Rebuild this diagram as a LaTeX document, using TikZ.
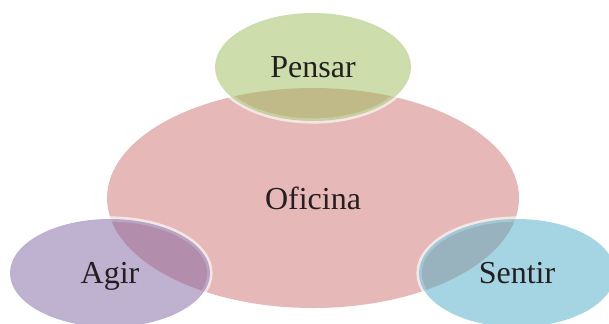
\documentclass[tikz,border=0pt]{standalone}
\usepackage{fontspec}
\setmainfont{Liberation Serif}
\usetikzlibrary{shapes.geometric}
\definecolor{pinkc}{HTML}{C0504D}
\definecolor{greenc}{HTML}{9BBB59}
\definecolor{purplec}{HTML}{8064A2}
\definecolor{bluec}{HTML}{4BACC6}
\definecolor{txt}{HTML}{231F20}
\tikzset{
  blob/.style={ellipse, inner sep=0pt, text depth=0pt, text=txt, font=\fontsize{16}{19}\selectfont},
  bigblob/.style={blob, fill=pinkc, fill opacity=0.4, text opacity=1},
  smallblob/.style={blob, fill=#1, fill opacity=0.5, text opacity=1,
    preaction={draw=white, draw opacity=0.65, line width=2.6pt}},
}
\begin{document}
\begin{tikzpicture}[x=0.5pt,y=-0.5pt]
\useasboundingbox (0,0) rectangle (609,323);
\node[bigblob, minimum width=206pt, minimum height=110pt] (oficina) at (313,198) {Oficina};
\node[smallblob=greenc, minimum width=98pt, minimum height=54pt] (pensar) at (313,67) {Pensar};
\node[smallblob=purplec, minimum width=100pt, minimum height=54pt] (agir) at (110,273) {Agir};
\node[smallblob=bluec, minimum width=98pt, minimum height=54pt] (sentir) at (517,273) {Sentir};
\end{tikzpicture}
\end{document}
